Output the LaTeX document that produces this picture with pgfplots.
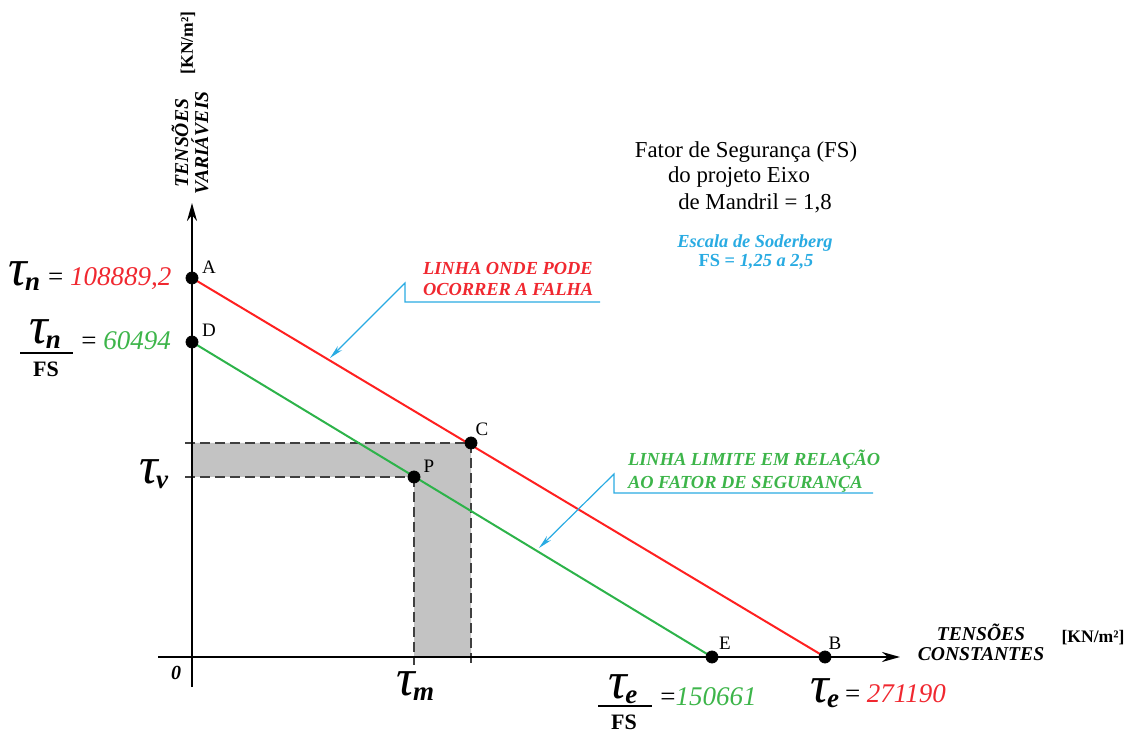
\documentclass[border=0pt]{standalone}
\usepackage{pgfplots}
\pgfplotsset{compat=1.18}
\usepackage{fontspec}
\setmainfont{Liberation Serif}
\usetikzlibrary{arrows.meta}
\definecolor{redline}{HTML}{FF2020}
\definecolor{redtext}{HTML}{F02830}
\definecolor{greenline}{HTML}{2DB34A}
\definecolor{greentext}{HTML}{3DB54A}
\definecolor{bluel}{HTML}{29ABE2}
\definecolor{shade}{HTML}{C3C3C3}
\newcommand{\tauu}[1]{{\fontsize{26}{26}\selectfont\itshape τ}\kern-1pt\raisebox{-2.5pt}{\fontsize{13.5}{13.5}\selectfont\bfseries\itshape #1}}
\begin{document}
\begin{tikzpicture}
\useasboundingbox (0,0) rectangle (566.5pt,366.5pt);
\begin{axis}[
  at={(0,0)}, anchor=south west,
  scale only axis, width=566.5pt, height=366.5pt,
  xmin=0, xmax=1133, ymin=0, ymax=733,
  hide axis, clip=false,
]
% shaded L-region
\addplot[fill=shade, draw=none] coordinates {(192,290) (471,290) (471,76) (414,76) (414,256) (192,256)} -- cycle;
% dashed guides
\addplot[dash pattern=on 5pt off 2.5pt, color=black!75, line width=0.6pt] coordinates {(185,290) (471,290)};
\addplot[dash pattern=on 5pt off 2.5pt, color=black!75, line width=0.6pt] coordinates {(185,256) (414,256)};
\addplot[dash pattern=on 5pt off 2.5pt, color=black!75, line width=0.6pt] coordinates {(414,256) (414,68)};
\addplot[dash pattern=on 5pt off 2.5pt, color=black!75, line width=0.6pt] coordinates {(471,290) (471,68)};
% axes
\addplot[black, line width=1.2pt, -{Stealth[length=9pt,width=5pt]}] coordinates {(158,76) (900,76)};
\addplot[black, line width=1.2pt, -{Stealth[length=9pt,width=5pt]}] coordinates {(192,46) (192,530)};
% lines
\addplot[redline, line width=1pt] coordinates {(192,455) (825,76)};
\addplot[greenline, line width=1pt] coordinates {(192,391) (712,76)};
% points
\addplot[only marks, mark=*, mark size=3pt, black] coordinates {(192,455) (192,391) (471,290) (414,256) (712,76) (825,76)};

% callouts
\draw[bluel, line width=0.6pt, -{Stealth[length=7pt,width=3pt]}] (axis cs:600,431) -- (axis cs:405,431) -- (axis cs:405,450) -- (axis cs:330,375);
\draw[bluel, line width=0.6pt, -{Stealth[length=7pt,width=3pt]}] (axis cs:873,240) -- (axis cs:614,240) -- (axis cs:614,259) -- (axis cs:539,185);

% point labels
\begin{scope}[every node/.style={font=\fontsize{9.5}{11}\selectfont}]
\node at (axis cs:209,466) {A};
\node at (axis cs:209,403) {D};
\node at (axis cs:482,304) {C};
\node at (axis cs:429,267) {P};
\node at (axis cs:725,90) {E};
\node at (axis cs:835,90) {B};
\end{scope}

% axis titles
\node[rotate=90, align=center, font=\fontsize{9.8}{10}\selectfont\bfseries\itshape] at (axis cs:190,590) {TENSÕES\\VARIÁVEIS};
\node[rotate=90, font=\fontsize{8.8}{10}\selectfont\bfseries] at (axis cs:188,690) {[KN/m²]};
\node[align=center, font=\fontsize{9.8}{10}\selectfont\bfseries\itshape] at (axis cs:981,91) {TENSÕES\\CONSTANTES};
\node[font=\fontsize{8.8}{10}\selectfont\bfseries] at (axis cs:1093,95) {[KN/m²]};
\node[font=\fontsize{10}{10}\selectfont\bfseries\itshape] at (axis cs:176,60) {0};

% tau labels
\node[anchor=base west, inner sep=0pt] at (axis cs:8,447) {\tauu{n}\hspace{4pt}{\fontsize{13.5}{13.5}\selectfont = \textcolor{redtext}{\itshape 108889,2}}};
\node[anchor=base, inner sep=0pt] at (axis cs:45,389) {\tauu{n}};
\draw[black, line width=1pt] (axis cs:20,380) -- (axis cs:73,380);
\node[font=\fontsize{11}{11}\selectfont\bfseries] at (axis cs:46,364) {FS};
\node[anchor=base west, inner sep=0pt, font=\fontsize{13.5}{13.5}\selectfont] at (axis cs:81,383) {= \textcolor{greentext}{\itshape 60494}};

\node[anchor=base west, inner sep=0pt] at (axis cs:139,249) {\tauu{v}};
\node[anchor=base west, inner sep=0pt] at (axis cs:396,38) {\tauu{m}};

\node[anchor=base, inner sep=0pt] at (axis cs:623,35) {\tauu{e}};
\draw[black, line width=1pt] (axis cs:598,27) -- (axis cs:652,27);
\node[font=\fontsize{11}{11}\selectfont\bfseries] at (axis cs:624,11) {FS};
\node[anchor=base west, inner sep=0pt, font=\fontsize{13.5}{13.5}\selectfont] at (axis cs:660,28) {=\textcolor{greentext}{\itshape 150661}};

\node[anchor=base west, inner sep=0pt] at (axis cs:810,31) {\tauu{e}\hspace{3pt}{\fontsize{13.5}{13.5}\selectfont = \textcolor{redtext}{\itshape 271190}}};

% callout texts
\node[anchor=west, align=left, text=redtext, font=\fontsize{9.2}{10.5}\selectfont\bfseries\itshape] at (axis cs:416,454) {LINHA ONDE PODE\\OCORRER A FALHA};
\node[anchor=west, align=left, text=greentext, font=\fontsize{9.2}{11.5}\selectfont\bfseries\itshape] at (axis cs:621,262) {LINHA LIMITE EM RELAÇÃO\\AO FATOR DE SEGURANÇA};

% title block
\begin{scope}[every node/.style={font=\fontsize{11.4}{12}\selectfont}]
\node at (axis cs:746,581) {Fator de Segurança (FS)};
\node at (axis cs:739,556) {do projeto Eixo};
\node at (axis cs:755,530) {de Mandril = 1,8};
\end{scope}
\node[text=bluel, font=\fontsize{9.2}{10}\selectfont\bfseries\itshape] at (axis cs:755,490) {Escala de Soderberg};
\node[text=bluel, font=\fontsize{9.2}{10}\selectfont\bfseries] at (axis cs:756,471) {FS = \itshape 1,25 a 2,5};
\end{axis}
\end{tikzpicture}
\end{document}
